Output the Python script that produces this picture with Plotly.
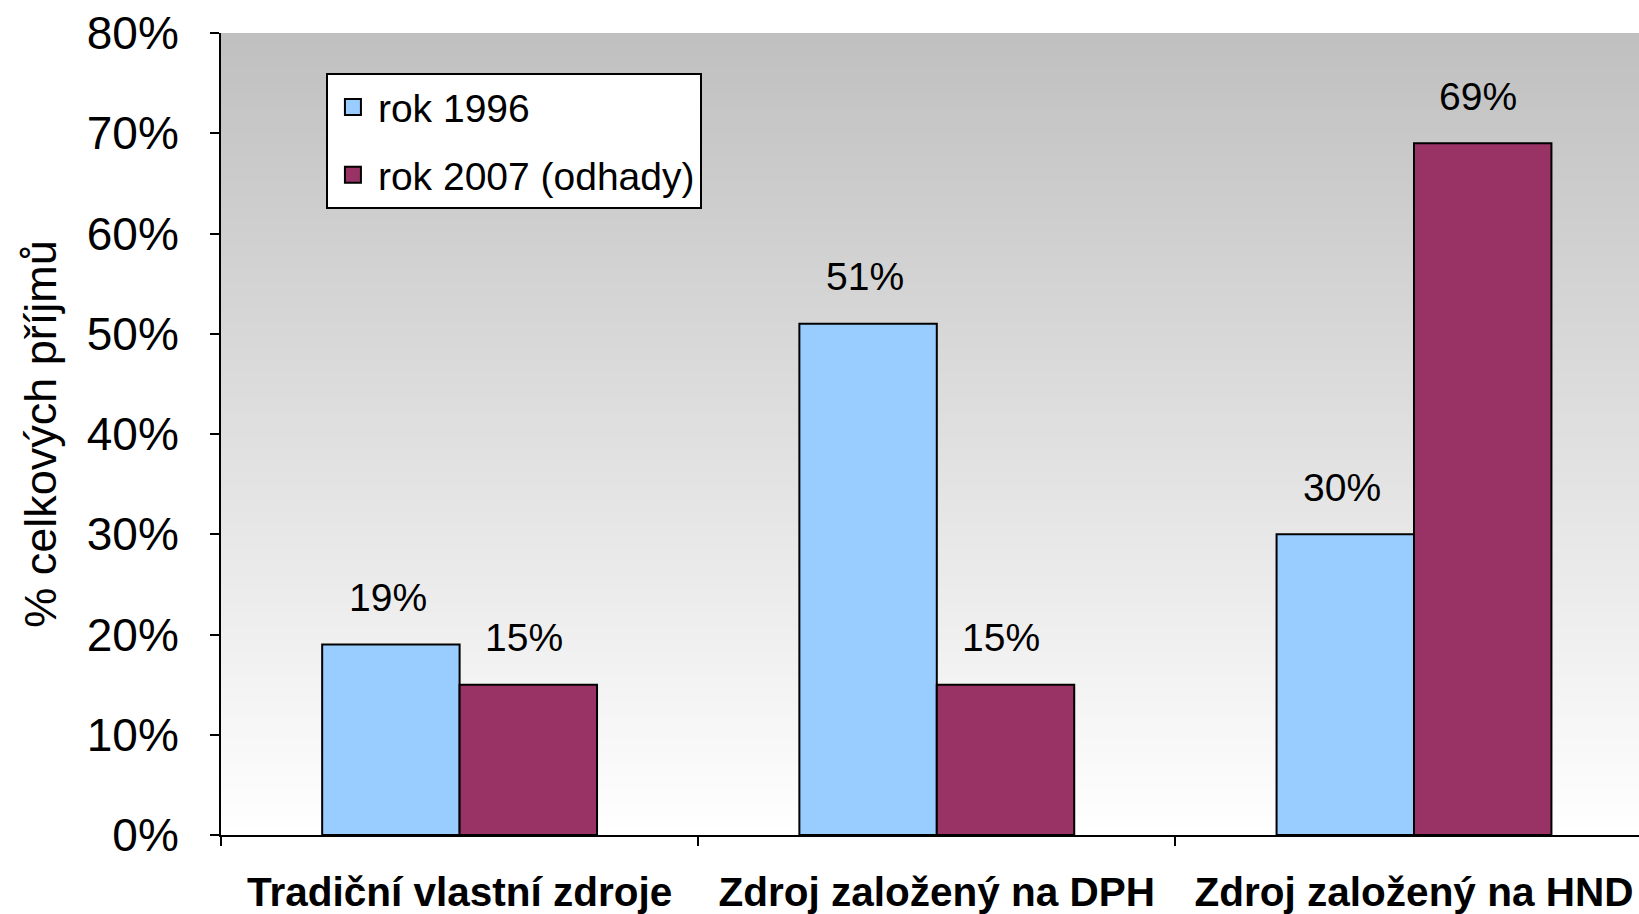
import base64, struct, zlib
import plotly.graph_objects as go

categories = ["Tradiční vlastní zdroje", "Zdroj založený na DPH", "Zdroj založený na HND"]
series_names = ["rok 1996", "rok 2007 (odhady)"]
values_1996 = [0.19, 0.51, 0.30]
values_2007 = [0.15, 0.15, 0.69]
y_ticks = [0, 0.1, 0.2, 0.3, 0.4, 0.5, 0.6, 0.7, 0.8]
y_title = "% celkových příjmů"

FONT = "Liberation Sans, Arial, sans-serif"
BLUE = "#99CCFF"
MAROON = "#993366"


def gradient_png(h=256, top=192, bottom=255):
    raw = b""
    for i in range(h):
        v = int(round(top + (bottom - top) * i / (h - 1)))
        raw += b"\x00" + bytes([v, v, v])

    def chunk(t, d):
        c = struct.pack(">I", len(d)) + t + d
        return c + struct.pack(">I", zlib.crc32(t + d) & 0xFFFFFFFF)

    png = b"\x89PNG\r\n\x1a\n"
    png += chunk(b"IHDR", struct.pack(">IIBBBBB", 1, h, 8, 2, 0, 0, 0))
    png += chunk(b"IDAT", zlib.compress(raw))
    png += chunk(b"IEND", b"")
    return "data:image/png;base64," + base64.b64encode(png).decode()


fig = go.Figure()
for name, vals, color, grp in ((series_names[0], values_1996, BLUE, "a"),
                               (series_names[1], values_2007, MAROON, "b")):
    fig.add_trace(go.Bar(x=categories, y=vals, name=name,
                         marker=dict(color=color, line=dict(color="black", width=2)),
                         legendgroup=grp, showlegend=False))
    # legend entry with a larger square swatch
    fig.add_trace(go.Scatter(x=[None], y=[None], mode="markers", name=name,
                             marker=dict(symbol="square", size=20, color=color,
                                         line=dict(color="black", width=2)),
                             legendgroup=grp, showlegend=True))

annotations = []
for vals, shift in ((values_1996, -72), (values_2007, 64)):
    for c, v in zip(categories, vals):
        annotations.append(dict(x=c, y=v, xref="x", yref="y", text=f"{round(v*100)}%",
                                showarrow=False, xshift=shift, yshift=47, yanchor="middle",
                                font=dict(family=FONT, size=39, color="black")))

fig.update_layout(
    width=1639, height=914,
    margin=dict(l=221, r=0, t=33, b=79),
    paper_bgcolor="white",
    plot_bgcolor="rgba(0,0,0,0)",
    barmode="group",
    bargap=0.424,
    bargroupgap=0,
    showlegend=True,
    legend=dict(x=0.074, y=0.95, xanchor="left", yanchor="top",
                bgcolor="white", bordercolor="black", borderwidth=2,
                font=dict(family=FONT, size=39, color="black"),
                tracegroupgap=14, traceorder="grouped", itemwidth=40),
    font=dict(family=FONT, color="black"),
    annotations=annotations,
    images=[dict(source=gradient_png(), xref="paper", yref="paper", x=0, y=1,
                 sizex=1, sizey=1, sizing="stretch", xanchor="left", yanchor="top",
                 layer="below")],
)
fig.update_yaxes(range=[0, 0.8], tickvals=y_ticks, tickformat=".0%",
                 showline=True, linecolor="black", linewidth=2,
                 ticks="outside", ticklen=9, tickwidth=2, tickcolor="black",
                 showgrid=False, zeroline=False,
                 tickfont=dict(family=FONT, size=46, color="black"),
                 ticklabelstandoff=22,
                 title=dict(text=y_title, font=dict(family=FONT, size=45, color="black"),
                            standoff=16))
fig.update_xaxes(range=[-0.5, 2.4715],
                 showline=True, linecolor="black", linewidth=2,
                 ticks="outside", ticklen=9, tickwidth=2, tickcolor="black",
                 tickson="boundaries", showgrid=False,
                 tickfont=dict(family=FONT, size=40.5, color="black", weight="bold"),
                 ticklabelstandoff=20)

fig.write_html("out.html", config={"displayModeBar": False},
               post_script="document.body.style.margin='0';document.body.style.overflow='hidden';")
